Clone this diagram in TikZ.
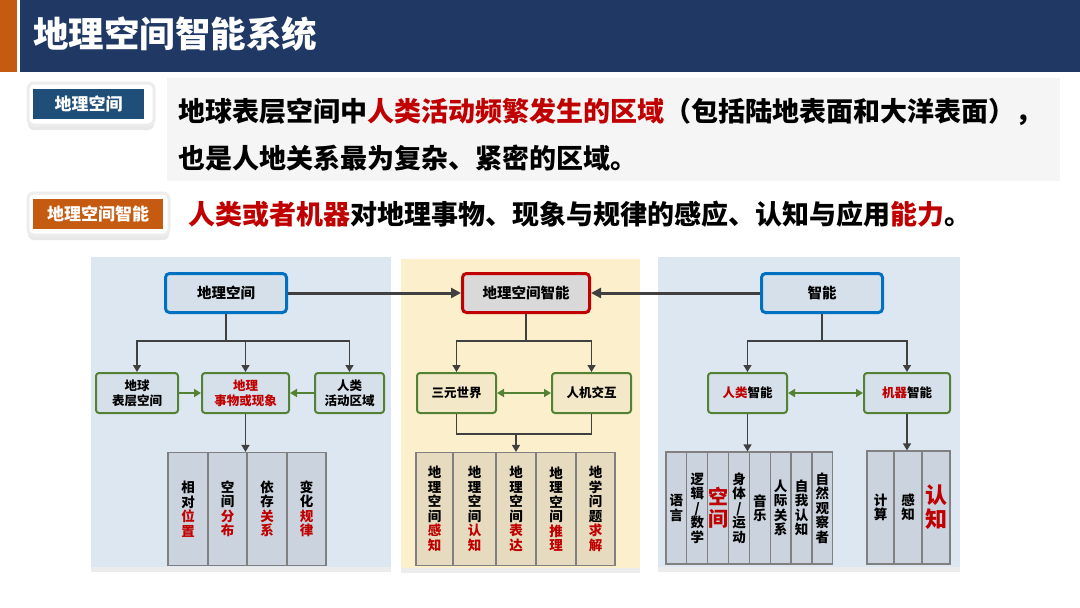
\documentclass[tikz,border=0pt]{standalone}
\usepackage{fontspec}
\usepackage{xcolor}
\usetikzlibrary{arrows.meta,shadows}
\newfontfamily\cjk{Noto Sans CJK SC}

\definecolor{hdblue}{HTML}{1F3864}
\definecolor{hdorange}{HTML}{C55A11}
\definecolor{tagblue}{HTML}{1F4E79}
\definecolor{keyred}{HTML}{C00000}
\definecolor{boxblue}{HTML}{0070C0}
\definecolor{boxgreen}{HTML}{548235}
\definecolor{panelblue}{HTML}{DDE7F2}
\definecolor{panelyellow}{HTML}{FCEFCB}
\definecolor{fillblue}{HTML}{D6E0EB}
\definecolor{fillyellow}{HTML}{F3E8C8}
\definecolor{keygray}{HTML}{D9D9D9}
\definecolor{colblue}{HTML}{CBD4DE}
\definecolor{colyellow}{HTML}{E7DBBF}
\definecolor{colline}{HTML}{808080}
\definecolor{linegray}{HTML}{404040}
\definecolor{notegray}{HTML}{F5F5F5}

\newcommand{\rd}[1]{\textcolor{keyred}{#1}}

\begin{document}
\begin{tikzpicture}[x=1pt,y=-1pt,
 every node/.style={inner sep=0pt},
 topbox/.style={draw=boxblue, line width=3pt, rounded corners=4pt, fill=fillblue, minimum width=121, minimum height=39, font=\cjk\bfseries\fontsize{14.5}{17}\selectfont},
 keybox/.style={topbox, draw=keyred, fill=keygray, minimum width=127},
 subbox/.style={draw=boxgreen, line width=2pt, rounded corners=3pt, fill=fillblue, minimum height=40, align=center, font=\cjk\bfseries\fontsize{12.5}{15}\selectfont},
 colbox/.style={draw=colline, line width=1.2pt, fill=colblue, minimum height=113, align=center, font=\cjk\bfseries\fontsize{13.5}{14.5}\selectfont},
 tagbox/.style={fill=white, draw=black!7, line width=3pt, rounded corners=6pt, drop shadow={opacity=0.18, shadow xshift=0pt, shadow yshift=-5pt}},
 bodytext/.style={anchor=west, font=\cjk\bfseries\fontsize{27}{30}\selectfont},
 conn/.style={draw=linegray, line width=3pt, -{Triangle[length=10pt,width=10pt]}},
 tree/.style={draw=linegray, line width=1.5pt, -{Triangle[length=7pt,width=8pt]}},
 garrow/.style={draw=boxgreen, line width=2pt, -{Triangle[length=7pt,width=8pt]}},
 gboth/.style={garrow, {Triangle[length=7pt,width=8pt]}-{Triangle[length=7pt,width=8pt]}},
 panel/.style={drop shadow={opacity=0.15, shadow xshift=0pt, shadow yshift=-5pt}}
]
\useasboundingbox (0,0) rectangle (1080,608);
\fill[white] (0,0) rectangle (1080,608);

% header
\fill[hdorange] (0,0) rectangle (17,72);
\fill[hdblue] (20,0) rectangle (1080,72);
\node[anchor=west, text=white, font=\cjk\bfseries\fontsize{35.5}{40}\selectfont] (title) at (33,34) {地理空间智能系统};

% definitions
\fill[notegray] (167,78) rectangle (1060,181);
\path[tagbox] (28,83) rectangle (154,125);
\node[fill=tagblue, minimum width=111, minimum height=30, text=white, font=\cjk\bfseries\fontsize{17}{20}\selectfont] (tag1) at (88.5,104) {地理空间};
\path[tagbox] (28,193) rectangle (169,235);
\node[fill=hdorange, minimum width=130, minimum height=30, text=white, font=\cjk\bfseries\fontsize{17}{20}\selectfont] (tag2) at (98,214) {地理空间智能};

\node[bodytext] (def1) at (178,112) {地球表层空间中\rd{人类活动频繁发生的区域}（包括陆地表面和大洋表面），};
\node[bodytext] (def2) at (178,158) {也是人地关系最为复杂、紧密的区域。};
\node[bodytext] (def3) at (188,214) {\rd{人类或者机器}对地理事物、现象与规律的感应、认知与应用\rd{能力}。};

% panels
\path[panel, fill=panelblue] (91,257) rectangle (391,567);
\path[panel, fill=panelyellow] (401,259) rectangle (640,568);
\path[panel, fill=panelblue] (658,257) rectangle (960,567);

\node[topbox] (geo) at (226,293) {地理空间};
\node[keybox] (gsi) at (526,293) {地理空间智能};
\node[topbox] (intel) at (822,293) {智能};
\draw[conn] (geo.east) -- (gsi.west);
\draw[conn] (intel.west) -- (gsi.east);

% left tree
\node[subbox, minimum width=82] (earth) at (137,393) {地球\\表层空间};
\node[subbox, minimum width=87, text=keyred] (thing) at (245.5,393) {地理\\事物或现象};
\node[subbox, minimum width=69] (human) at (349.5,393) {人类\\活动区域};
\coordinate (gj) at (226,341);
\draw[line width=1.5pt, draw=linegray] (geo.south) -- (gj);
\draw[tree] (gj) -| (earth.north);
\draw[tree] (gj) -| (thing.north);
\draw[tree] (gj) -| (human.north);
\draw[garrow] (earth.east) -- (thing.west);
\draw[garrow] (human.west) -- (thing.east);

\node[colbox, minimum width=40] (l1) at (188,509) {相\\对\\\rd{位}\\\rd{置}};
\node[colbox, minimum width=39] (l2) at (227.5,509) {空\\间\\\rd{分}\\\rd{布}};
\node[colbox, minimum width=40] (l3) at (267,509) {依\\存\\\rd{关}\\\rd{系}};
\node[colbox, minimum width=39] (l4) at (306.5,509) {变\\化\\\rd{规}\\\rd{律}};
\draw[tree] (thing.south) -- (thing.south |- l2.north);

% middle tree
\node[subbox, minimum width=79, fill=fillyellow] (tri) at (456.5,393) {三元世界};
\node[subbox, minimum width=79, fill=fillyellow] (hci) at (591.5,393) {人机交互};
\coordinate (sj) at (526,341);
\draw[line width=1.5pt, draw=linegray] (gsi.south) -- (sj);
\draw[tree] (sj) -| (tri.north);
\draw[tree] (sj) -| (hci.north);
\draw[gboth] (tri.east) -- (hci.west);

\node[colbox, minimum width=37, fill=colyellow] (m1) at (434.5,509) {地\\理\\空\\间\\\rd{感}\\\rd{知}};
\node[colbox, minimum width=43, fill=colyellow] (m2) at (474.5,509) {地\\理\\空\\间\\\rd{认}\\\rd{知}};
\node[colbox, minimum width=40, fill=colyellow] (m3) at (516,509) {地\\理\\空\\间\\\rd{表}\\\rd{达}};
\node[colbox, minimum width=40, fill=colyellow] (m4) at (556,509) {地\\理\\空\\间\\\rd{推}\\\rd{理}};
\node[colbox, minimum width=39, fill=colyellow] (m5) at (595.5,509) {地\\学\\问\\题\\\rd{求}\\\rd{解}};
\coordinate (mj) at (516,434);
\draw[line width=1.5pt, draw=linegray] (tri.south) |- (mj) -| (hci.south);
\draw[tree] (mj) -- (m3.north);

% right tree
\node[subbox, minimum width=79] (hum) at (747.5,393) {\rd{人类}智能};
\node[subbox, minimum width=86] (mach) at (907,393) {\rd{机器}智能};
\coordinate (ij) at (822,341);
\draw[line width=1.5pt, draw=linegray] (intel.south) -- (ij);
\draw[tree] (ij) -| (hum.north);
\draw[tree] (ij) -| (mach.north);
\draw[gboth] (hum.east) -- (mach.west);

\node[colbox, minimum width=20.85, minimum height=112] (h1) at (676.4,508) {语\\言};
\node[colbox, minimum width=20.85, minimum height=112] (h2) at (697.3,508) {逻\\辑\\/\\数\\学};
\node[colbox, minimum width=20.85, minimum height=112, text=keyred, font=\cjk\bfseries\fontsize{20}{22}\selectfont] (h3) at (718.1,508) {空\\间};
\node[colbox, minimum width=20.85, minimum height=112] (h4) at (739,508) {身\\体\\/\\运\\动};
\node[colbox, minimum width=20.85, minimum height=112] (h5) at (759.8,508) {音\\乐};
\node[colbox, minimum width=20.85, minimum height=112] (h6) at (780.7,508) {人\\际\\关\\系};
\node[colbox, minimum width=20.85, minimum height=112] (h7) at (801.5,508) {自\\我\\认\\知};
\node[colbox, minimum width=20.85, minimum height=112] (h8) at (822.4,508) {自\\然\\观\\察\\者};
\draw[tree] (hum.south) -- (hum.south |- h4.north);

\node[colbox, minimum width=27, minimum height=113] (k1) at (880.5,507.5) {计\\算};
\node[colbox, minimum width=28, minimum height=113] (k2) at (908,507.5) {感\\知};
\node[colbox, minimum width=28, minimum height=113, text=keyred, font=\cjk\bfseries\fontsize{22}{24}\selectfont] (k3) at (936,507.5) {认\\知};
\draw[tree] (mach.south) -- (mach.south |- k2.north);
\end{tikzpicture}
\end{document}
